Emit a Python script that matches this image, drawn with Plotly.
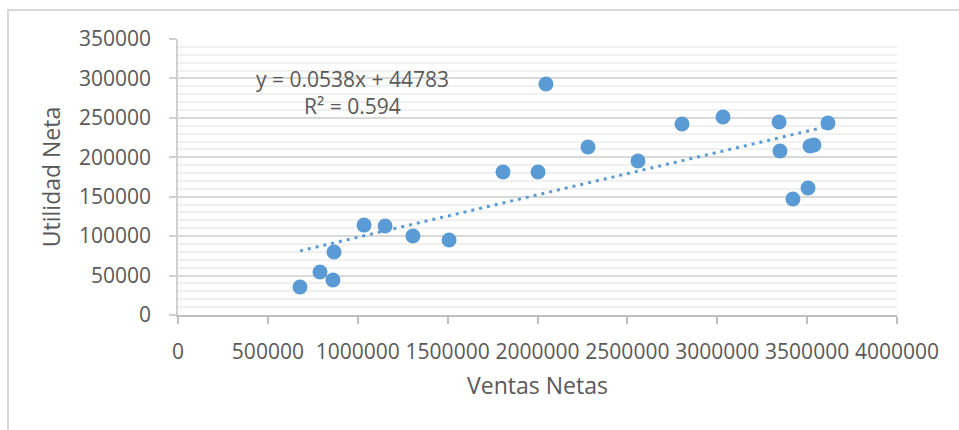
import plotly.graph_objects as go

# Ventas netas vs. utilidad neta por observación
ventas_netas = [678700, 790000, 862000, 868000, 1035000, 1152000, 1307000, 1508000,
                1808000, 2003000, 2047000, 2281000, 2559000, 2804000, 3032000,
                3344000, 3349000, 3421000, 3505000, 3516000, 3538000, 3616000]
utilidad_neta = [35500, 54500, 44400, 79900, 114000, 112900, 100200, 95100,
                 181300, 181300, 292900, 213000, 195300, 242200, 251100,
                 244700, 208000, 147100, 161000, 214300, 215600, 243500]

# Línea de tendencia lineal (coeficientes publicados en la etiqueta)
pendiente = 0.0538
intercepto = 44783
r_cuadrado = 0.594

x_tend = [min(ventas_netas), max(ventas_netas)]
y_tend = [pendiente * v + intercepto for v in x_tend]

azul = "#5B9BD5"
gris_texto = "#595959"
fuente = "Open Sans"

fig = go.Figure()

fig.add_trace(go.Scatter(
    x=x_tend, y=y_tend, mode="lines",
    line=dict(color=azul, width=3, dash="3px,5px"),
    hoverinfo="skip", showlegend=False,
))

fig.add_trace(go.Scatter(
    x=ventas_netas, y=utilidad_neta, mode="markers",
    marker=dict(color=azul, size=15, line=dict(width=0)),
    showlegend=False,
))

# Etiqueta de la ecuación de tendencia
fig.add_annotation(
    x=0.243, y=0.807, xref="x domain", yref="y domain", showarrow=False,
    xanchor="center", yanchor="middle",
    text=f"y = {pendiente}x + {intercepto}<br>R² = {r_cuadrado}",
    align="center",
    font=dict(family=fuente, size=21, color=gris_texto),
)

# Borde exterior del área del gráfico
fig.add_shape(
    type="rect", xref="paper", yref="paper",
    x0=-0.2364, x1=1.10, y0=-0.45, y1=1.105,
    line=dict(color="#d9d9d9", width=2), fillcolor="rgba(0,0,0,0)", layer="below",
)

fig.update_layout(
    width=959, height=430,
    margin=dict(l=178, r=62, t=39, b=115),
    paper_bgcolor="white", plot_bgcolor="white",
    font=dict(family=fuente, color=gris_texto),
    showlegend=False,
)

fig.update_xaxes(
    range=[0, 4000000], tick0=0, dtick=500000, tickformat="d",
    showgrid=False, zeroline=False,
    showline=True, linecolor="#bfbfbf", linewidth=1.5,
    ticks="outside", ticklen=7, tickcolor="#bfbfbf", tickwidth=1.5,
    ticklabelstandoff=10,
    tickfont=dict(family=fuente, size=21, color=gris_texto),
    title=dict(text="Ventas Netas", font=dict(family=fuente, size=23, color=gris_texto),
               standoff=14),
)

fig.update_yaxes(
    range=[0, 350000], tick0=0, dtick=50000, tickformat="d",
    showgrid=True, gridcolor="#d9d9d9", gridwidth=1.5,
    minor=dict(dtick=10000, showgrid=True, gridcolor="#f0f0f0", gridwidth=1.5),
    zeroline=False,
    showline=True, linecolor="#d0d0d0", linewidth=1.5,
    ticks="outside", ticklen=7, tickcolor="#d0d0d0", tickwidth=1.5,
    ticklabelstandoff=14,
    tickfont=dict(family=fuente, size=21, color=gris_texto),
    title=dict(text="Utilidad Neta", font=dict(family=fuente, size=23, color=gris_texto),
               standoff=12),
)

fig.write_html("out.html")
